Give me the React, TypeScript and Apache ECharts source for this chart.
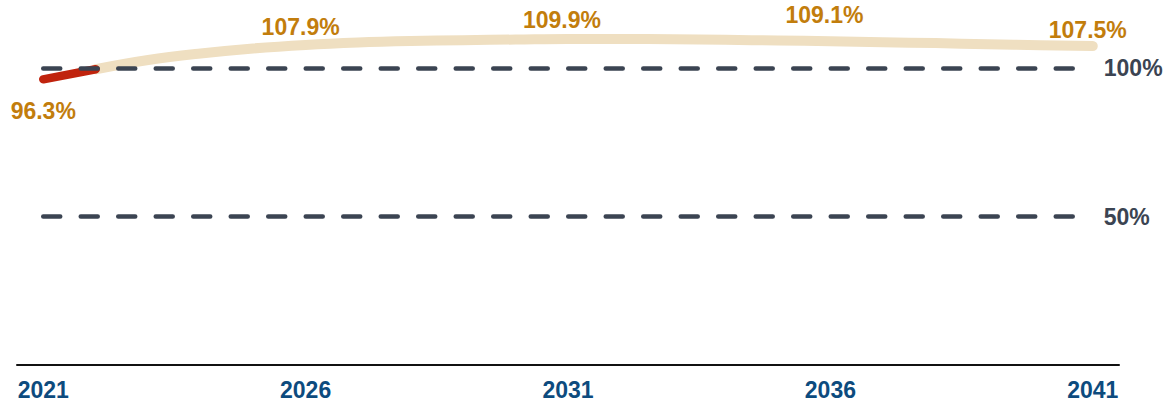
import React, { useEffect, useRef } from "react";
import * as echarts from "echarts";

const years = [
  "2021", "2022", "2023", "2024", "2025", "2026", "2027", "2028", "2029", "2030",
  "2031", "2032", "2033", "2034", "2035", "2036", "2037", "2038", "2039", "2040", "2041",
];
const actualValues: (number | null)[] = [96.3, 99.7, null, null, null, null, null, null, null, null, null, null, null, null, null, null, null, null, null, null, null];
const projectedValues: (number | null)[] = [
  null, 99.7, 102.8, 105.0, 106.7, 107.9, 108.7, 109.2, 109.5, 109.7,
  109.9, 109.9, 109.8, 109.6, 109.4, 109.1, 108.8, 108.5, 108.1, 107.8, 107.5,
];
const labelledYears = ["2026", "2031", "2036", "2041"];
const labelOffsets: Record<string, number[]> = {
  "2026": [-5, -1],
  "2031": [-6, -2],
  "2036": [-6, -10],
  "2041": [-5, 0],
};
const referenceLevels = [100, 50];
const referenceLabels = ["100%", "50%"];

const LABEL_COLOR = "#c27d0c";
const FONT = "Liberation Sans, Arial, sans-serif";

export default function App() {
  const ref = useRef<HTMLDivElement>(null);
  useEffect(() => {
    if (!ref.current) return;
    const chart = echarts.init(ref.current, null, { renderer: "svg" });
    const labelStyle = (extra: any) => ({
      show: true,
      formatter: "{c}%",
      color: LABEL_COLOR,
      fontSize: 23,
      fontWeight: "bold",
      fontFamily: FONT,
      ...extra,
    });
    const projData = projectedValues.map((v, i) => {
      const y = years[i];
      if (v !== null && labelledYears.includes(y)) {
        return { value: v, label: labelStyle({ position: "top", offset: labelOffsets[y] }) };
      }
      return v;
    });
    const actData = actualValues.map((v, i) => {
      if (i === 0 && v !== null) {
        return { value: v, label: labelStyle({ position: "bottom", distance: 20 }) };
      }
      return v;
    });
    chart.setOption({
      animation: false,
      textStyle: { fontFamily: FONT },
      grid: { left: 17, right: 55, top: 9, bottom: 41, containLabel: false },
      xAxis: {
        type: "category",
        data: years,
        boundaryGap: true,
        axisLine: { show: true, lineStyle: { color: "#111111", width: 2 } },
        axisTick: { show: false },
        axisLabel: {
          interval: 4,
          margin: 13,
          color: "#0d4b7e",
          fontSize: 23,
          fontWeight: "bold",
          fontFamily: FONT,
        },
        splitLine: { show: false },
      },
      yAxis: {
        type: "value",
        min: 0,
        max: 120,
        show: false,
        splitLine: { show: false },
      },
      series: [
        {
          name: "Projected",
          type: "line",
          data: projData,
          smooth: 0.4,
          showSymbol: true,
          symbol: "circle",
          symbolSize: 0,
          itemStyle: { color: "#efdfc1" },
          z: 2,
          lineStyle: { color: "#efdfc1", width: 10, cap: "round", join: "round" },
          markLine: {
            silent: true,
            symbol: "none",
            lineStyle: { color: "#3b4452", width: 4.5, type: [17, 20.5], cap: "round" },
            label: {
              show: true,
              position: "end",
              distance: 11,
              color: "#3b4452",
              fontSize: 23,
              fontWeight: "bold",
              fontFamily: FONT,
            },
            data: referenceLevels.map((lv, i) => [
              { coord: [years[0], lv], label: { formatter: referenceLabels[i] } },
              { coord: [years[years.length - 1], lv] },
            ]),
          },
        },
        {
          name: "Actual",
          type: "line",
          data: actData,
          showSymbol: true,
          symbol: "circle",
          symbolSize: 0,
          itemStyle: { color: "#c0230d" },
          z: 3,
          lineStyle: { color: "#c0230d", width: 8.5, cap: "round", join: "round" },
        },
      ],
    });
    return () => chart.dispose();
  }, []);
  return (
    <div
      ref={ref}
      style={{ position: "fixed", left: 0, top: 0, width: 1174, height: 406, background: "#ffffff" }}
    />
  );
}
